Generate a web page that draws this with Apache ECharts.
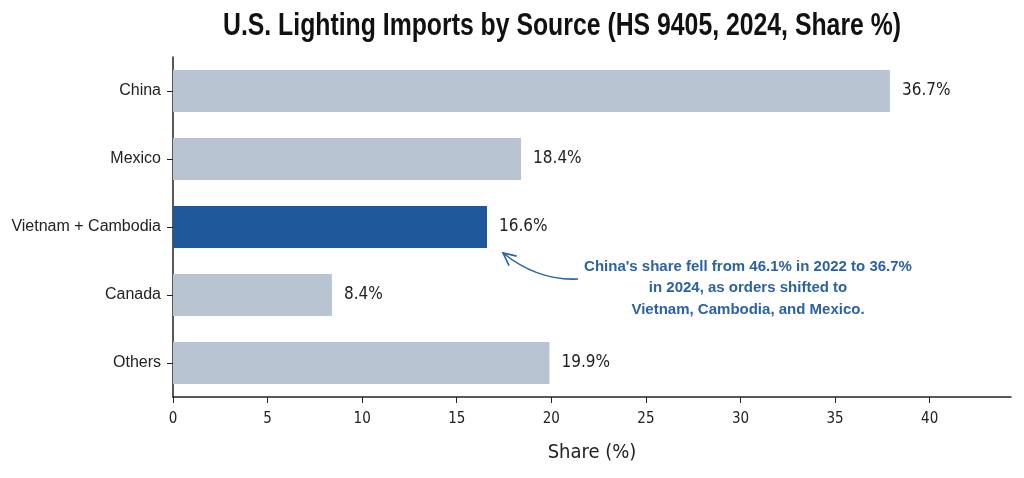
<!DOCTYPE html>
<html>
<head>
<meta charset="utf-8">
<script src="https://cdn.jsdelivr.net/npm/echarts@6/dist/echarts.min.js"></script>
<style>
  html, body { margin: 0; padding: 0; background: #ffffff; }
  #chart { width: 1024px; height: 478px; }
</style>
</head>
<body>
<div id="chart"></div>
<script>
// 数据
const categories = ['China', 'Mexico', 'Vietnam + Cambodia', 'Canada', 'Others'];
// bar lengths as drawn in the picture
const shareValues = [37.9, 18.4, 16.6, 8.4, 19.9];
// labels as printed next to the bars
const shareLabels = ['36.7%', '18.4%', '16.6%', '8.4%', '19.9%'];
const highlight = 'Vietnam + Cambodia';
const xTicks = [0, 5, 10, 15, 20, 25, 30, 35, 40];
const titleText = 'U.S. Lighting Imports by Source (HS 9405, 2024, Share %)';
const noteLines = [
    "China's share fell from 46.1% in 2022 to 36.7%",
    'in 2024, as orders shifted to',
    'Vietnam, Cambodia, and Mexico.'
];

const condensed = "'DejaVu Sans Condensed', 'Liberation Sans', sans-serif";
const regular = "'Liberation Sans', Arial, sans-serif";
const grayBar = '#b9c4d2';
const blueBar = '#1f5899';
const noteBlue = '#2b62a3';

const chart = echarts.init(document.getElementById('chart'));

const option = {
    backgroundColor: '#ffffff',
    animation: false,
    grid: {
        left: 173,
        right: 13,
        top: 57,
        height: 340,
        outerBoundsMode: 'none'
    },
    xAxis: {
        type: 'value',
        min: 0,
        max: 44.3,
        interval: 5,
        name: 'Share (%)',
        nameLocation: 'middle',
        nameGap: 46,
        nameTextStyle: { fontFamily: condensed, fontSize: 20, color: '#222' },
        splitLine: { show: false },
        axisLine: { show: true, lineStyle: { color: '#222', width: 1.5 } },
        axisTick: { show: true, length: 6, lineStyle: { color: '#222' }, customValues: xTicks },
        axisLabel: {
            fontFamily: condensed, fontSize: 15, color: '#222', margin: 15,
            customValues: xTicks
        }
    },
    yAxis: {
        type: 'category',
        inverse: true,
        data: categories,
        axisLine: { show: true, lineStyle: { color: '#222', width: 1.5 } },
        axisTick: { show: true, alignWithLabel: true, length: 6, lineStyle: { color: '#222' } },
        axisLabel: { fontFamily: regular, fontSize: 16, color: '#222', margin: 12 }
    },
    series: [{
        type: 'bar',
        barWidth: 42,
        data: shareValues.map((v, i) => ({
            value: v,
            itemStyle: { color: categories[i] === highlight ? blueBar : grayBar }
        })),
        label: {
            show: true,
            position: 'right',
            distance: 12,
            fontFamily: condensed,
            fontSize: 17,
            color: '#222',
            formatter: p => shareLabels[p.dataIndex]
        }
    }]
};

chart.setOption(option);

// 注释与箭头
const idx = categories.indexOf(highlight);
const barEnd = chart.convertToPixel({ gridIndex: 0 }, [shareValues[idx], categories[idx]]);
const tip = [barEnd[0] + 16, barEnd[1] + 26];
const tail = [tip[0] + 75, tip[1] + 26];
const ctrl = [tail[0] - 40, tail[1] + 2];
const ang = Math.atan2(ctrl[1] - tip[1], ctrl[0] - tip[0]);
const headLen = 14;
const h1 = [tip[0] + headLen * Math.cos(ang - 0.45), tip[1] + headLen * Math.sin(ang - 0.45)];
const h2 = [tip[0] + headLen * Math.cos(ang + 0.45), tip[1] + headLen * Math.sin(ang + 0.45)];

chart.setOption({
    graphic: [
        {
            // 标题（横向压缩，模拟窄体字）
            type: 'text',
            x: 562,
            y: 11,
            scaleX: 0.8,
            style: {
                text: titleText,
                align: 'center',
                fontFamily: regular,
                fontSize: 31,
                fontWeight: 'bold',
                fill: '#111'
            }
        },
        {
            type: 'bezierCurve',
            shape: {
                x1: tail[0], y1: tail[1],
                x2: tip[0], y2: tip[1],
                cpx1: ctrl[0], cpy1: ctrl[1]
            },
            style: { stroke: noteBlue, lineWidth: 1.6, fill: null }
        },
        {
            type: 'polyline',
            shape: { points: [h1, tip, h2] },
            style: { stroke: noteBlue, lineWidth: 1.6, fill: null }
        },
        {
            type: 'text',
            x: tip[0] + 245,
            y: tip[1] + 3,
            style: {
                text: noteLines.join('\n'),
                align: 'center',
                fontFamily: regular,
                fontSize: 15,
                fontWeight: 'bold',
                lineHeight: 21.5,
                fill: noteBlue
            }
        }
    ]
});

window.addEventListener('resize', function() {
    chart.resize();
});
</script>
</body>
</html>
